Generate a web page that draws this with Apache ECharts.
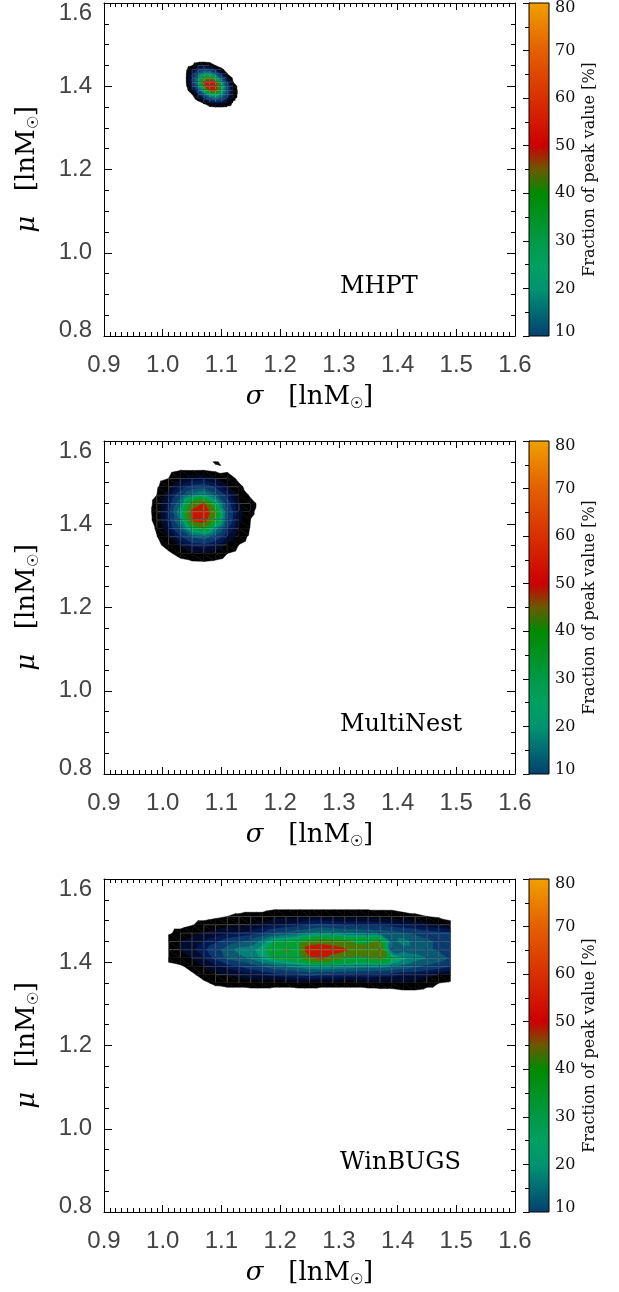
<!DOCTYPE html>
<html>
<head>
<meta charset="utf-8">
<script src="https://cdn.jsdelivr.net/npm/echarts@6/dist/echarts.min.js"></script>
<style>
  html, body { margin: 0; padding: 0; background: #fff; }
  #chart { width: 619px; height: 1292px; }
</style>
</head>
<body>
<div id="chart"></div>
<script>
// grid nodes (sigma, mu) and fraction of peak value [%]

// MHPT
var mhptSigma = [1.03, 1.04, 1.05, 1.06, 1.07, 1.08, 1.09, 1.10, 1.11, 1.12, 1.13, 1.14];
var mhptMu = [1.46, 1.45, 1.44, 1.43, 1.42, 1.41, 1.40, 1.39, 1.38, 1.37, 1.36, 1.35];
var mhptZ = [
  [0, 0,   0,   0.3, 0.4,  0.2,  0,    0,    0,    0,   0, 0],
  [0, 0,   0.8, 2.6, 3.6,  2.9,  0.9,  0,    0,    0,   0, 0],
  [0, 0.4, 3.2, 8.7, 12.2, 11.2, 6.6,  1.6,  0,    0,   0, 0],
  [0, 0.8, 6.8, 15.6, 23.3, 23.8, 16.4, 7.7, 1.0,  0,   0, 0],
  [0, 1.0, 9.1, 21.8, 39.2, 46.1, 30.8, 15.8, 4.7, 0.3, 0, 0],
  [0, 0.9, 9.1, 23.9, 50.4, 58.3, 51.1, 25.2, 9.8, 1.0, 0, 0],
  [0, 0.5, 6.8, 20.3, 46.8, 60.4, 55.4, 31.9, 13.5, 2.7, 0, 0],
  [0, 0,   3.2, 14,   29.8, 51,   51.1, 30.2, 14.3, 3.3, 0, 0],
  [0, 0,   0.8, 7,    17,   27.8, 30.8, 22.9, 12,   2.9, 0, 0],
  [0, 0,   0,   2,    7.6,  13.9, 16.4, 13.8, 7.4,  1.5, 0, 0],
  [0, 0,   0,   0,    1.2,  4.1,  6.6,  5.7,  2.7,  0.5, 0, 0],
  [0, 0,   0,   0,    0,    0.5,  0.9,  0.9,  0.5,  0,   0, 0]
];

// MultiNest
var multiSigma = [0.97, 0.99, 1.01, 1.03, 1.05, 1.07, 1.09, 1.11, 1.13, 1.15, 1.17];
var multiMu = [1.55, 1.53, 1.51, 1.49, 1.47, 1.45, 1.43, 1.41, 1.39, 1.37, 1.35, 1.33, 1.31];
var multiZ = [
  [0, 0,   0,   0,    0,    0,    1.3,  0,    0,   0,   0],
  [0, 0,   0.2, 0.9,  0.8,  0.9,  0.3,  0.6,  0,   0,   0],
  [0, 0.1, 1.0, 3.2,  5.1,  5.7,  4.0,  2.1,  0.5, 0,   0],
  [0, 0.6, 2.9, 7.1,  10.9, 12.3, 9.1,  4.5,  1.4, 0.2, 0],
  [0, 1.0, 5.2, 12.6, 21.4, 26,   17.1, 8.4,  3.0, 0.5, 0],
  [0, 1.6, 7.6, 18.5, 43.7, 50.8, 30,   12,   4,   1.8, 0],
  [0, 1.8, 8.8, 23.9, 53,   58.3, 41.5, 14.5, 5,   1.4, 0],
  [0, 1.7, 8.4, 21.5, 51.3, 55,   37.7, 13.8, 4.7, 0.9, 0],
  [0, 1.2, 6.6, 15.9, 32.2, 39,   22.3, 9.9,  3.5, 0.7, 0],
  [0, 0.9, 3.8, 9.3,  15.7, 17.3, 12.7, 6.5,  2.2, 0.4, 0],
  [0, 0.4, 1.9, 4.7,  7.8,  8.5,  6.5,  3.2,  0.9, 0,   0],
  [0, 0.1, 0.6, 1.8,  3.1,  3.4,  2.6,  1.0,  0.1, 0,   0],
  [0, 0,   0,   0.4,  0.8,  0.9,  0.6,  0,    0,   0,   0]
];

// WinBUGS
var bugsSigma = [1.01, 1.03, 1.05, 1.07, 1.09, 1.11, 1.13, 1.15, 1.17, 1.19, 1.21, 1.23, 1.25,
                 1.27, 1.29, 1.31, 1.33, 1.35, 1.37, 1.39, 1.41, 1.43, 1.45, 1.47, 1.49];
var bugsMu = [1.53, 1.51, 1.49, 1.47, 1.45, 1.43, 1.41, 1.39, 1.37, 1.35, 1.33];
var bugsZ = [
  [0,   0,   0,   0,   0,   0,  0,   0,   0,   0.5, 0.5, 0.5, 0.5, 0.5, 0.5, 0.5, 0.5, 0.5, 0.5, 0.5, 0,   0,   0,  0,   0],
  [0,   0,   0,   0,   0.5, 1,  1.5, 2,   2,   3,   3,   3,   3,   3,   3,   3,   3,   3,   2.5, 2.5, 2,   1.5, 1,  0.5, 0],
  [0,   0,   0.8, 2,   2.5, 3,  3,   4,   5,   6,   7,   8,   10,  11,  10,  9,   9,   9,   9,   8,   7,   6,   5,  4,   2],
  [0.5, 2,   3,   4,   5,   6,  7,   8,   10,  14,  16,  18,  20,  22,  22,  20,  20,  19,  18,  17,  15,  14,  12, 11,  10],
  [3,   4,   5,   7,   9,   12, 14,  16,  22,  30,  32,  34,  42,  45,  44,  42,  38,  38,  42,  18,  22,  18,  16, 14,  12],
  [3,   4,   6,   9,   13,  17, 22,  23,  28,  37,  41,  38,  58,  60,  56,  52,  44,  43,  51,  14,  18,  18,  16, 14,  13],
  [2,   3,   4,   7,   11,  16, 18,  21,  26,  32,  34,  36,  48,  52,  45,  40,  38,  40,  44,  32,  26,  22,  20, 18,  14],
  [0,   0.5, 2,   4,   6,   8,  10,  12,  15,  18,  20,  22,  24,  25,  24,  23,  22,  22,  22,  20,  18,  16,  14, 12,  10],
  [0,   0,   0.5, 2,   3,   4,  5,   6,   7,   8,   9,   10,  11,  10,  10,  9,   9,   9,   8,   8,   6,   6,   5,  4,   3],
  [0,   0,   0,   0.5, 1.5, 2,  2,   2.5, 2.5, 2,   2,   2.5, 2.5, 2,   2,   2,   2,   2.5, 3,   3,   3.5, 3.5, 2,  1,   0.5],
  [0,   0,   0,   0,   0,   0,  0,   0,   0,   0,   0,   0,   0,   0,   0,   0,   0,   0,   0,   0,   0.5, 0.5, 0,  0,   0]
];

var panelNames = ['MHPT', 'MultiNest', 'WinBUGS'];
var levels = [1, 4, 7, 10, 15, 20, 25, 30, 40, 50];
var levelColors = ['#000000', '#000b30', '#001a55', '#0b3a6e', '#0a5a72', '#008078',
                   '#00a070', '#00a030', '#4f7800', '#c81400'];
var barStops = [[10, '#05406e'], [15, '#006a72'], [20, '#009470'], [25, '#00a060'], [30, '#009a46'],
                [40, '#008a00'], [45, '#6a5a00'], [50, '#cc0000'], [60, '#d83000'], [70, '#e46000'], [80, '#f0a000']];

var panels = [
  { sigma: mhptSigma, mu: mhptMu, z: mhptZ },
  { sigma: multiSigma, mu: multiMu, z: multiZ },
  { sigma: bugsSigma, mu: bugsMu, z: bugsZ }
];
var panelTop = [3, 441, 879];
var plotH = 333;

var tickFont = 'Liberation Sans';
var serif = 'DejaVu Serif';

// part of a triangle where the linear surface is >= L
function clipAbove(pts, vals, L) {
  var out = [];
  for (var k = 0; k < pts.length; k++) {
    var a = k, b = (k + 1) % pts.length;
    var va = vals[a] - L, vb = vals[b] - L;
    if (va >= 0) out.push(pts[a]);
    if ((va >= 0) !== (vb >= 0)) {
      var t = va / (va - vb);
      out.push([pts[a][0] + t * (pts[b][0] - pts[a][0]), pts[a][1] + t * (pts[b][1] - pts[a][1])]);
    }
  }
  return out;
}

function contourSeries(axisIdx, xs, ys, z) {
  var data = [];
  for (var j = 0; j < ys.length - 1; j++) {
    for (var i = 0; i < xs.length - 1; i++) {
      data.push([xs[i], ys[j], i, j]);
    }
  }
  return {
    type: 'custom',
    xAxisIndex: axisIdx.x,
    yAxisIndex: axisIdx.y,
    clip: true,
    silent: true,
    encode: { x: 0, y: 1 },
    data: data,
    renderItem: function (params, api) {
      var i = api.value(2), j = api.value(3);
      var p = [
        api.coord([xs[i], ys[j]]), api.coord([xs[i + 1], ys[j]]),
        api.coord([xs[i + 1], ys[j + 1]]), api.coord([xs[i], ys[j + 1]])
      ];
      var v = [z[j][i], z[j][i + 1], z[j + 1][i + 1], z[j + 1][i]];
      var tris = [[0, 1, 2], [0, 2, 3]];
      var children = [];
      levels.forEach(function (L, n) {
        tris.forEach(function (t) {
          var pts = clipAbove(t.map(function (q) { return p[q]; }), t.map(function (q) { return v[q]; }), L);
          if (pts.length >= 3) {
            children.push({
              type: 'polygon',
              shape: { points: pts },
              style: { fill: levelColors[n], stroke: levelColors[n], lineWidth: 0.5 }
            });
          }
        });
      });
      // faint mesh of the binning grid
      if (Math.min.apply(null, v) >= 1) {
        children.push({
          type: 'polygon',
          shape: { points: p },
          style: { fill: 'none', stroke: 'rgba(255,255,255,0.2)', lineWidth: 1 }
        });
      }
      return { type: 'group', children: children };
    }
  };
}

var nameRich = {
  g: { fontFamily: serif, fontSize: 26, fontStyle: 'italic', color: '#000' },
  s: { fontFamily: serif, fontSize: 15, padding: [14, 0, 0, 0], color: '#000' }
};

var grids = [], xAxes = [], yAxes = [], series = [], titles = [];

panels.forEach(function (pn, k) {
  var top = panelTop[k];
  grids.push({ left: 104, width: 411, top: top, height: plotH });
  var g = grids.length - 1;
  var axLine = { show: true, lineStyle: { color: '#000', width: 1 } };

  xAxes.push({
    type: 'value', gridIndex: g, position: 'bottom', min: 0.9, max: 1.6, interval: 0.1,
    axisLine: axLine,
    axisTick: { inside: true, length: 7, lineStyle: { color: '#000' } },
    minorTick: { show: true, splitNumber: 10, length: 4, lineStyle: { color: '#000' } },
    splitLine: { show: false }, minorSplitLine: { show: false },
    axisLabel: {
      margin: 17, fontFamily: tickFont, fontSize: 24, color: '#444',
      formatter: function (v) { return v.toFixed(1); }
    },
    name: '{g|σ}   [lnM{s|☉}]', nameLocation: 'middle', nameGap: 47,
    nameTextStyle: { fontFamily: serif, fontSize: 26, color: '#000', rich: nameRich }
  });
  var xb = xAxes.length - 1;
  xAxes.push({
    type: 'value', gridIndex: g, position: 'top', min: 0.9, max: 1.6, interval: 0.1,
    axisLine: axLine,
    axisTick: { inside: true, length: 7, lineStyle: { color: '#000' } },
    minorTick: { show: true, splitNumber: 10, length: 4, lineStyle: { color: '#000' } },
    splitLine: { show: false }, axisLabel: { show: false }
  });

  yAxes.push({
    type: 'value', gridIndex: g, position: 'left', min: 0.8, max: 1.6, interval: 0.2,
    axisLine: axLine,
    axisTick: { inside: true, length: 8, lineStyle: { color: '#000' } },
    minorTick: { show: true, splitNumber: 4, length: 5, lineStyle: { color: '#000' } },
    splitLine: { show: false }, minorSplitLine: { show: false },
    axisLabel: {
      margin: 12, fontFamily: tickFont, fontSize: 24, color: '#444',
      formatter: function (v) {
        var s = v.toFixed(1);
        if (s === '1.6') return '{t|' + s + '}';
        if (s === '0.8') return '{b|' + s + '}';
        return s;
      },
      rich: {
        t: { fontFamily: tickFont, fontSize: 24, color: '#444', padding: [20, 0, 0, 0] },
        b: { fontFamily: tickFont, fontSize: 24, color: '#444', padding: [0, 0, 12, 0] }
      }
    },
    name: '{g|μ}   [lnM{s|☉}]', nameLocation: 'middle', nameGap: 62, nameRotate: 90,
    nameTextStyle: { fontFamily: serif, fontSize: 26, color: '#000', rich: nameRich }
  });
  var yl = yAxes.length - 1;
  yAxes.push({
    type: 'value', gridIndex: g, position: 'right', min: 0.8, max: 1.6, interval: 0.2,
    axisLine: axLine,
    axisTick: { inside: true, length: 8, lineStyle: { color: '#000' } },
    minorTick: { show: true, splitNumber: 4, length: 4, lineStyle: { color: '#000' } },
    splitLine: { show: false }, axisLabel: { show: false }
  });

  series.push(contourSeries({ x: xb, y: yl }, pn.sigma, pn.mu, pn.z));

  // colour bar
  grids.push({ left: 529, width: 20, top: top, height: plotH });
  var cg = grids.length - 1;
  xAxes.push({ type: 'value', gridIndex: cg, min: 0, max: 1, show: false });
  var cx = xAxes.length - 1;
  yAxes.push({
    type: 'value', gridIndex: cg, position: 'right', min: 10, max: 80, interval: 10,
    axisLine: { show: true, lineStyle: { color: '#000' } },
    axisTick: { inside: true, length: 6, lineStyle: { color: '#000' } },
    minorTick: { show: true, splitNumber: 2, length: 4, lineStyle: { color: '#000' } },
    splitLine: { show: false },
    axisLabel: {
      margin: 6, fontFamily: serif, fontSize: 16, color: '#111',
      formatter: function (v) {
        if (v === 80) return '{t|80}';
        if (v === 10) return '{b|10}';
        return String(v);
      },
      rich: {
        t: { fontFamily: serif, fontSize: 16, color: '#111', padding: [10, 0, 0, 0] },
        b: { fontFamily: serif, fontSize: 16, color: '#111', padding: [0, 0, 8, 0] }
      }
    },
    name: 'Fraction of peak value [%]', nameLocation: 'middle', nameRotate: 90, nameGap: 33,
    nameTextStyle: { fontFamily: serif, fontSize: 16, color: '#111' }
  });
  var cy = yAxes.length - 1;
  series.push({
    type: 'custom', xAxisIndex: cx, yAxisIndex: cy, silent: true,
    data: [[0, 10, 80]],
    renderItem: function (params, api) {
      var p0 = api.coord([0, api.value(2)]);
      var p1 = api.coord([1, api.value(1)]);
      var stops = barStops.map(function (s) {
        return { offset: (80 - s[0]) / 70, color: s[1] };
      }).reverse();
      return {
        type: 'rect',
        shape: { x: p0[0], y: p0[1], width: p1[0] - p0[0], height: p1[1] - p0[1] },
        style: {
          fill: { type: 'linear', x: 0, y: 0, x2: 0, y2: 1, colorStops: stops },
          stroke: '#000', lineWidth: 1
        }
      };
    }
  });

  titles.push({
    text: panelNames[k], left: 340, top: top + 272, padding: 0,
    textStyle: { fontFamily: serif, fontSize: 24, fontWeight: 'normal', color: '#000', lineHeight: 24 }
  });
});

var chart = echarts.init(document.getElementById('chart'));
chart.setOption({
  backgroundColor: '#fff',
  animation: false,
  title: titles,
  grid: grids,
  xAxis: xAxes,
  yAxis: yAxes,
  series: series
});
</script>
</body>
</html>
